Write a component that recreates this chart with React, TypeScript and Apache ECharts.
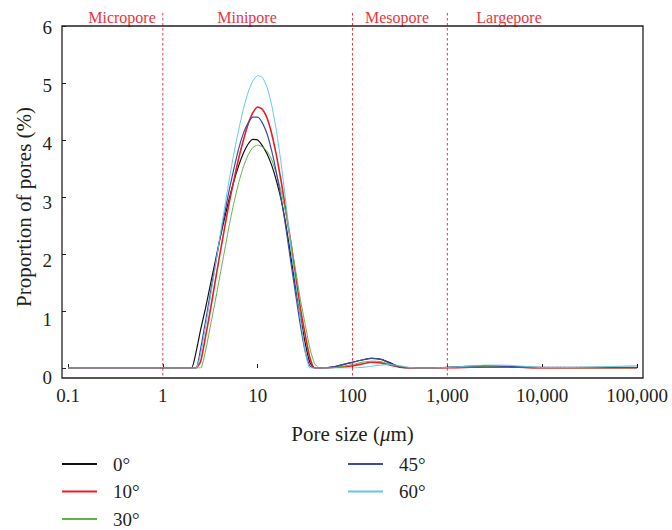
import { useEffect, useRef } from 'react';
import * as echarts from 'echarts';

// Pore size (μm) sample positions, shared by every series
const poreSizes = [
  0.1, 1, 1.58,
  2.0, 2.24, 2.51, 2.82, 3.16, 3.55, 3.98, 4.47, 5.01, 5.62, 6.31, 7.08, 7.94, 8.91,
  10.0, 11.2, 12.6, 14.1, 15.8, 17.8, 20.0, 22.4, 25.1, 28.2, 31.6, 35.5, 39.8, 44.7,
  50.1, 63.1, 79.4, 100, 126, 158, 200, 251, 316, 398, 501, 631,
  1000, 1585, 2512, 3981, 6310, 10000, 19950, 39810, 100000,
];

const seriesNames = ['0°', '10°', '30°', '45°', '60°'];

const angle0 = [
  0, 0, 0,
  0, 0.28, 0.68, 1.05, 1.45, 1.85, 2.25, 2.62, 2.97, 3.28, 3.55, 3.77, 3.93, 4.01,
  4.0, 3.9, 3.75, 3.55, 3.28, 2.93, 2.48, 1.95, 1.42, 0.92, 0.45, 0.1, 0, 0,
  0, 0.02, 0.06, 0.1, 0.14, 0.17, 0.15, 0.09, 0.02, 0, 0, 0,
  0.01, 0.02, 0.02, 0.02, 0.01, 0, 0, 0, 0,
];
const angle10 = [
  0, 0, 0,
  0, 0, 0.12, 0.55, 1.0, 1.5, 1.98, 2.45, 2.9, 3.3, 3.68, 4.0, 4.28, 4.48,
  4.58, 4.54, 4.38, 4.1, 3.72, 3.25, 2.72, 2.2, 1.62, 1.05, 0.6, 0.18, 0, 0,
  0, 0.01, 0.02, 0.04, 0.07, 0.1, 0.09, 0.05, 0.02, 0, 0, 0,
  0, 0.01, 0.02, 0.02, 0.01, 0, 0, 0, 0,
];
const angle30 = [
  0, 0, 0,
  0, 0, 0, 0.3, 0.72, 1.15, 1.6, 2.05, 2.5, 2.9, 3.25, 3.53, 3.74, 3.87,
  3.91, 3.88, 3.8, 3.65, 3.4, 3.08, 2.68, 2.22, 1.72, 1.2, 0.78, 0.35, 0.08, 0,
  0, 0.01, 0.03, 0.06, 0.1, 0.12, 0.11, 0.06, 0.02, 0, 0, 0,
  0.01, 0.02, 0.03, 0.03, 0.02, 0.01, 0, 0, 0,
];
const angle45 = [
  0, 0, 0,
  0, 0, 0.35, 0.82, 1.3, 1.78, 2.25, 2.7, 3.12, 3.5, 3.85, 4.12, 4.3, 4.4,
  4.4, 4.3, 4.1, 3.8, 3.42, 2.95, 2.42, 1.85, 1.3, 0.75, 0.3, 0.04, 0, 0,
  0, 0.02, 0.06, 0.1, 0.14, 0.17, 0.15, 0.08, 0.01, 0, 0, 0,
  0.01, 0.03, 0.04, 0.03, 0.02, 0.01, 0.01, 0.01, 0.01,
];
const angle60 = [
  0, 0, 0,
  0, 0, 0.25, 0.72, 1.22, 1.75, 2.28, 2.8, 3.3, 3.77, 4.18, 4.55, 4.84, 5.04,
  5.13, 5.1, 4.92, 4.6, 4.15, 3.55, 2.85, 2.12, 1.5, 0.9, 0.3, 0, 0, 0,
  0, 0, 0, 0, 0.01, 0.03, 0.05, 0.06, 0.04, 0.01, 0, 0,
  0.01, 0.03, 0.05, 0.05, 0.03, 0.01, 0.01, 0.02, 0.04,
];

const seriesValues = [angle0, angle10, angle30, angle45, angle60];
const seriesColors = ['#111111', '#ee1d25', '#5fb544', '#3b4ea3', '#62c9dd'];
const seriesWidths = [1.2, 1.6, 1.0, 1.2, 1.0];

const xTickLabels = ['0.1', '1', '10', '100', '1,000', '10,000', '100,000'];
const regionLabels = ['Micropore', 'Minipore', 'Mesopore', 'Largepore'];
const regionLabelCenters = [122, 247, 397, 509];
const regionBoundaries = [1, 100, 1000];
// small downward shift of each y tick label (px), for y = 0..6
const yLabelShift = [9.4, 8, 6.6, 5.2, 3.8, 2.4, 1];

export default function App() {
  const ref = useRef<HTMLDivElement>(null);

  useEffect(() => {
    const chart = echarts.init(ref.current!, null, { renderer: 'svg' });
    const font = 'Liberation Serif, serif';
    const ink = '#231f20';
    const red = '#ec3440';

    const yRich: Record<string, any> = {};
    yLabelShift.forEach((s, v) => {
      yRich['o' + v] = { fontFamily: font, fontSize: 19, color: ink, lineHeight: 2 * s };
    });

    chart.setOption({
      animation: false,
      backgroundColor: '#ffffff',
      textStyle: { fontFamily: font },
      grid: { left: 68, right: 35, top: 26, bottom: 162, containLabel: false },
      xAxis: {
        type: 'log',
        logBase: 10,
        min: 0.1,
        max: 100000,
        interval: 1,
        offset: 10,
        axisLine: { show: false },
        axisTick: { show: true, inside: true, length: 4, lineStyle: { color: ink, width: 1 } },
        splitLine: { show: false },
        minorTick: { show: false },
        axisLabel: {
          margin: 8,
          fontFamily: font,
          fontSize: 19,
          color: ink,
          formatter: (v: number) => xTickLabels[Math.round(Math.log10(v)) + 1] ?? '',
        },
        name: 'Pore size ({i|μ}m)',
        nameLocation: 'middle',
        nameGap: 45,
        nameTextStyle: {
          fontFamily: font,
          fontSize: 21,
          color: ink,
          rich: { i: { fontFamily: font, fontSize: 21, fontStyle: 'italic', color: ink } },
        },
      },
      yAxis: {
        type: 'value',
        min: 0,
        max: 6,
        interval: 1,
        offset: 6,
        axisLine: { show: false },
        axisTick: { show: true, inside: true, length: 4, lineStyle: { color: ink, width: 1 } },
        splitLine: { show: false },
        axisLabel: {
          margin: 10,
          fontFamily: font,
          fontSize: 19,
          color: ink,
          verticalAlign: 'top',
          formatter: (v: number) => `{o${Math.round(v)}|${v}}`,
          rich: yRich,
        },
      },
      legend: [
        {
          orient: 'vertical',
          left: 62,
          top: 454,
          padding: 0,
          icon: 'rect',
          itemWidth: 35,
          itemHeight: 2,
          itemGap: 7.5,
          data: seriesNames.slice(0, 3),
          textStyle: { fontFamily: font, fontSize: 19, color: ink, lineHeight: 20, padding: [0, 0, 0, 11] },
        },
        {
          orient: 'vertical',
          left: 348,
          top: 454,
          padding: 0,
          icon: 'rect',
          itemWidth: 35,
          itemHeight: 2,
          itemGap: 7.5,
          data: seriesNames.slice(3),
          textStyle: { fontFamily: font, fontSize: 19, color: ink, lineHeight: 20, padding: [0, 0, 0, 11] },
        },
      ],
      series: seriesNames.map((name, s) => ({
        name,
        type: 'line',
        symbol: 'none',
        smooth: 0.2,
        color: seriesColors[s],
        lineStyle: { color: seriesColors[s], width: seriesWidths[s] },
        data: poreSizes.map((x, i) => [x, seriesValues[s][i]]),
        z: 3 + s,
      })),
    });

    const boundaryLines = regionBoundaries.map((v) => {
      const px = chart.convertToPixel({ xAxisIndex: 0 }, v) as number;
      return {
        type: 'line',
        shape: { x1: px, y1: 13, x2: px, y2: 378 },
        style: { stroke: red, lineWidth: 1, lineDash: [2.5, 2.5] },
        z: 10,
      };
    });

    const regionTexts = regionLabels.map((t, i) => ({
      type: 'text',
      x: regionLabelCenters[i],
      y: 17,
      style: {
        text: t,
        fill: red,
        font: `16px ${font}`,
        align: 'center',
        verticalAlign: 'middle',
        textAlign: 'center',
        textVerticalAlign: 'middle',
      },
      z: 10,
    }));

    chart.setOption({
      graphic: [
        {
          type: 'rect',
          shape: { x: 62, y: 26, width: 581, height: 352 },
          style: { fill: 'none', stroke: ink, lineWidth: 1.3 },
          z: 20,
          silent: true,
        },
        ...boundaryLines,
        ...regionTexts,
        {
          type: 'text',
          x: 24,
          y: 207,
          rotation: Math.PI / 2,
          style: {
            text: 'Proportion of pores (%)',
            fill: ink,
            font: `21px ${font}`,
            align: 'center',
            verticalAlign: 'middle',
            textAlign: 'center',
            textVerticalAlign: 'middle',
          },
        },
      ],
    });

    return () => chart.dispose();
  }, []);

  return (
    <div
      ref={ref}
      style={{ position: 'absolute', left: 0, top: 0, width: 672, height: 530 }}
    />
  );
}
